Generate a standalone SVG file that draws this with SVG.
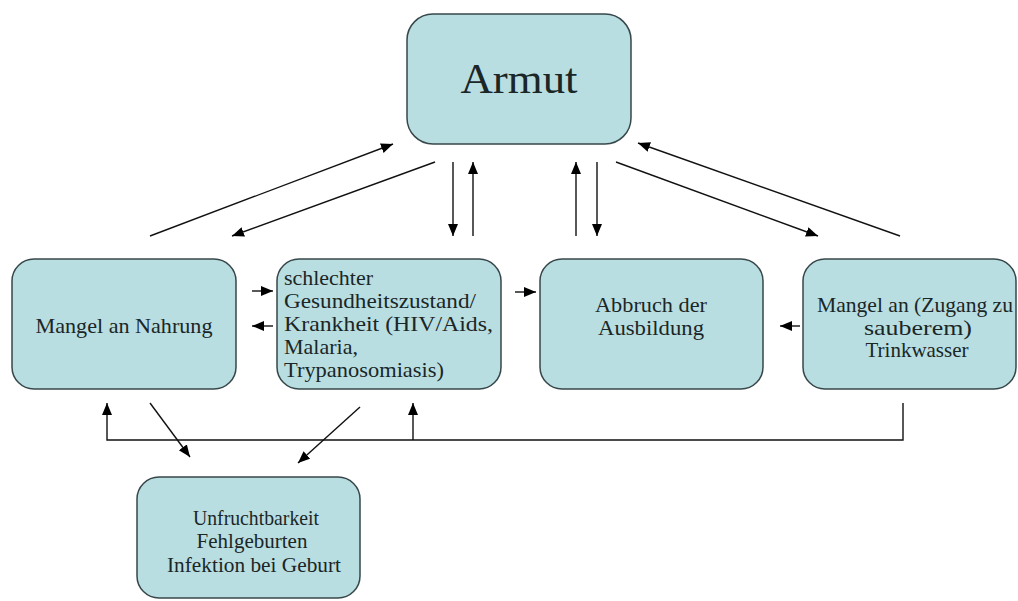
<svg xmlns="http://www.w3.org/2000/svg" width="1018" height="601" viewBox="0 0 1018 601">
<style>
.box{fill:#b8dee2;stroke:#37474a;stroke-width:1.5}
.t{font-size:21px;fill:#1b2626}
.c{text-anchor:middle}
.ln{fill:none;stroke:#111;stroke-width:1.4}
</style>
<defs>
<marker id="ah" markerUnits="userSpaceOnUse" markerWidth="14" markerHeight="12" refX="12" refY="5" orient="auto">
<path d="M0,0 L12,5 L0,10 z" fill="#000"/>
</marker>
</defs>
<rect width="1018" height="601" fill="#fff"/>
<g id="connectors">
<line class="ln" x1="150" y1="236" x2="393" y2="144" marker-end="url(#ah)"/>
<line class="ln" x1="435" y1="162" x2="232" y2="236" marker-end="url(#ah)"/>
<line class="ln" x1="453" y1="162" x2="453" y2="236" marker-end="url(#ah)"/>
<line class="ln" x1="473" y1="236" x2="473" y2="162" marker-end="url(#ah)"/>
<line class="ln" x1="576" y1="236" x2="576" y2="162" marker-end="url(#ah)"/>
<line class="ln" x1="597" y1="162" x2="597" y2="236" marker-end="url(#ah)"/>
<line class="ln" x1="616" y1="162" x2="818" y2="236" marker-end="url(#ah)"/>
<line class="ln" x1="900" y1="236" x2="638" y2="143" marker-end="url(#ah)"/>
<line class="ln" x1="252" y1="291" x2="273" y2="291" marker-end="url(#ah)"/>
<line class="ln" x1="273" y1="326" x2="252" y2="326" marker-end="url(#ah)"/>
<line class="ln" x1="515" y1="292" x2="536" y2="292" marker-end="url(#ah)"/>
<line class="ln" x1="800" y1="326" x2="780" y2="326" marker-end="url(#ah)"/>
<polyline class="ln" points="903,403 903,440 107,440 107,403" marker-end="url(#ah)"/>
<line class="ln" x1="413" y1="440" x2="413" y2="403" marker-end="url(#ah)"/>
<line class="ln" x1="150" y1="403" x2="190" y2="457" marker-end="url(#ah)"/>
<line class="ln" x1="360" y1="407" x2="298" y2="463" marker-end="url(#ah)"/>
</g>
<g font-family="'Liberation Serif', 'DejaVu Serif', serif">
<g id="armut">
<rect class="box" x="407" y="14" width="224" height="130" rx="26"/>
<text class="t c" x="519" y="93" font-size="42" style="font-size:42px" textLength="117" lengthAdjust="spacingAndGlyphs">Armut</text>
</g>
<g id="nahrung">
<rect class="box" x="12" y="259" width="224" height="130" rx="22"/>
<text class="t c" x="124" y="333" textLength="177" lengthAdjust="spacingAndGlyphs">Mangel an Nahrung</text>
</g>
<g id="gesundheit">
<rect class="box" x="277" y="259" width="224" height="130" rx="22"/>
<text class="t" x="284" y="285" textLength="89" lengthAdjust="spacingAndGlyphs">schlechter</text>
<text class="t" x="284" y="308" textLength="192" lengthAdjust="spacingAndGlyphs">Gesundheitszustand/</text>
<text class="t" x="284" y="331" textLength="209" lengthAdjust="spacingAndGlyphs">Krankheit (HIV/Aids,</text>
<text class="t" x="284" y="354" textLength="74" lengthAdjust="spacingAndGlyphs">Malaria,</text>
<text class="t" x="284" y="377" textLength="160" lengthAdjust="spacingAndGlyphs">Trypanosomiasis)</text>
</g>
<g id="ausbildung">
<rect class="box" x="540" y="259" width="223" height="130" rx="22"/>
<text class="t c" x="651" y="312" textLength="112" lengthAdjust="spacingAndGlyphs">Abbruch der</text>
<text class="t c" x="651" y="335" textLength="106" lengthAdjust="spacingAndGlyphs">Ausbildung</text>
</g>
<g id="trinkwasser">
<rect class="box" x="803" y="259" width="213" height="130" rx="22"/>
<text class="t c" x="915" y="312" textLength="196" lengthAdjust="spacingAndGlyphs">Mangel an (Zugang zu</text>
<text class="t c" x="918" y="335" textLength="108" lengthAdjust="spacingAndGlyphs">sauberem)</text>
<text class="t c" x="917" y="357">Trinkwasser</text>
</g>
<g id="folgen">
<rect class="box" x="137" y="477" width="223" height="121" rx="22"/>
<text class="t c" x="256" y="525" textLength="126" lengthAdjust="spacingAndGlyphs">Unfruchtbarkeit</text>
<text class="t c" x="252" y="548">Fehlgeburten</text>
<text class="t c" x="254" y="572" textLength="174" lengthAdjust="spacingAndGlyphs">Infektion bei Geburt</text>
</g>
</g>
</svg>
